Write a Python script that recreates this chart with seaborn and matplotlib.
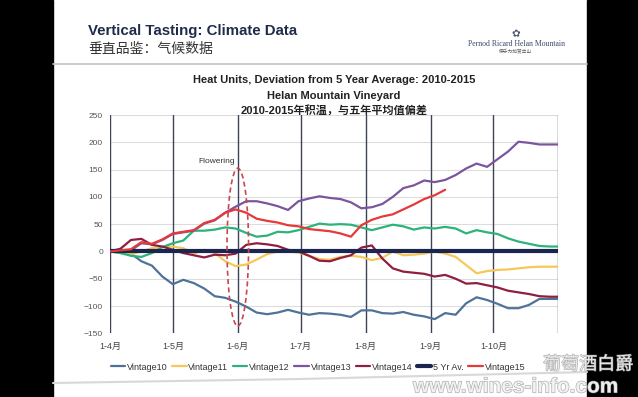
import numpy as np
import pandas as pd
import seaborn as sns
import matplotlib.pyplot as plt
import matplotlib.dates as mdates
import matplotlib.patheffects as pe
from matplotlib.patches import Ellipse, Rectangle
from matplotlib.lines import Line2D

# Days after 1 April (readings taken every 5 days)
days = [0, 5, 10, 15, 20, 25, 30, 35, 40, 45, 50, 55, 60, 65, 70, 75, 80, 85, 90, 95,
        100, 105, 110, 115, 120, 125, 130, 135, 140, 145, 150, 155, 160, 165, 170, 175,
        180, 185, 190, 195, 200, 205, 210, 214]

vintage10 = [0, -1, -4, -18, -26, -46, -60, -52, -58, -68, -82, -85, -92, -101, -112, -115,
             -112, -107, -112, -116, -113, -114, -116, -120, -108, -108, -113, -114, -111, -116,
             -119, -124, -113, -116, -95, -84, -89, -96, -104, -104, -98, -87, -87, -87]
vintage11 = [0, -3, -5, 0, 6, 8, 9, 6, -4, 3, -3, -18, -27, -24, -15, -5, 0, 0, -2, -8,
             -14, -15, -10, -8, -10, -16, -12, 0, -7, -6, -4, 0, -4, -10, -25, -40, -36, -34,
             -33, -31, -29, -28, -28, -28]
vintage12 = [0, -3, -8, -10, -3, 8, 15, 20, 38, 38, 40, 44, 42, 34, 27, 29, 36, 35, 39, 45,
             51, 49, 50, 49, 44, 39, 44, 49, 46, 40, 44, 42, 45, 42, 33, 39, 35, 32, 24, 18,
             14, 10, 9, 9]
vintage13 = [0, 0, 2, 15, 13, 21, 32, 35, 38, 51, 57, 71, 82, 92, 92, 88, 83, 76, 92, 97,
             101, 98, 96, 90, 79, 81, 87, 100, 116, 121, 130, 127, 131, 140, 152, 161, 155, 169,
             183, 201, 199, 196, 196, 196]
vintage14 = [0, 5, 21, 23, 12, 9, 3, -3, -7, -11, -6, -7, -4, 12, 15, 13, 10, 3, 0, -8,
             -17, -18, -12, -7, 7, 11, -13, -31, -37, -39, -41, -46, -43, -50, -59, -58, -62,
             -66, -72, -75, -78, -82, -83, -83]
vintage15 = [0, 2, 4, 17, 14, 22, 33, 36, 39, 52, 58, 71, 77, 71, 60, 56, 53, 48, 46, 41,
             39, 37, 33, 27, 48, 58, 64, 68, 77, 86, 96, 103, 113] + [np.nan] * 11
five_yr_av = [0] * len(days)

series_names = ["Vintage10", "Vintage11", "Vintage12", "Vintage13", "Vintage14",
                "5 Yr Av.", "Vintage15"]
series_colors = ["#4f7298", "#f6c85a", "#2bb37b", "#7b559e", "#8e1f40", "#1b2650", "#e6393a"]

month_starts = ["2015-04-01", "2015-05-01", "2015-06-01", "2015-07-01", "2015-08-01",
                "2015-09-01", "2015-10-01", "2015-11-01"]
month_labels = ["1-4月", "1-5月", "1-6月", "1-7月", "1-8月", "1-9月", "1-10月"]

start = pd.Timestamp("2015-04-01")
df = pd.DataFrame({
    "date": start + pd.to_timedelta(days, unit="D"),
    "Vintage10": vintage10,
    "Vintage11": vintage11,
    "Vintage12": vintage12,
    "Vintage13": vintage13,
    "Vintage14": vintage14,
    "5 Yr Av.": five_yr_av,
    "Vintage15": vintage15,
})
long_df = df.melt(id_vars="date", var_name="series", value_name="value").dropna()

W, H = 638, 397


def fx(px):
    return px / W


def fy(py):
    return 1 - py / H


sns.set_theme(style="white")
plt.rcParams['font.family'] = ['Liberation Sans', 'Noto Sans CJK SC', 'DejaVu Sans']

fig = plt.figure(figsize=(6.38, 3.97), dpi=100)
fig.patch.set_facecolor("white")

# black borders of the photographed screen
fig.patches.append(Rectangle((0, 0), fx(53), 1, transform=fig.transFigure, color="black", zorder=0))
fig.patches.append(Rectangle((fx(587), 0), 1 - fx(587), 1, transform=fig.transFigure,
                             color="black", zorder=0))

# slide header
fig.text(fx(88), fy(31), "Vertical Tasting: Climate Data", fontsize=10.8, weight="bold",
         color="#1f2b4a", va="center")
fig.text(fx(88), fy(48.5), "垂直品鉴：气候数据", fontsize=10, color="#333333", va="center")
fig.text(fx(516), fy(34), "✿", fontsize=7.5, color="#4a5670", ha="center", va="center",
         family="DejaVu Sans")
fig.text(fx(516), fy(44), "Pernod Ricard Helan Mountain", fontsize=5.6, color="#3a4a6a",
         ha="center", va="center", family="Liberation Serif")
fig.text(fx(516), fy(51.5), "保乐力加贺兰山", fontsize=3.4, color="#5a5a5a", ha="center", va="center")
fig.add_artist(Line2D([fx(53), fx(587)], [fy(64), fy(64)], color="#c4c4c4", lw=1.2))

# chart titles
fig.text(fx(334), fy(80), "Heat Units, Deviation from 5 Year Average: 2010-2015", fontsize=8,
         weight="bold", color="#222222", ha="center", va="center")
fig.text(fx(334), fy(96), "Helan Mountain Vineyard", fontsize=8, weight="bold",
         color="#222222", ha="center", va="center")
fig.text(fx(334), fy(110), "2010-2015年积温，与五年平均值偏差", fontsize=8, weight="bold",
         color="#222222", ha="center", va="center")

ax = fig.add_axes([fx(110), fy(333.3), (558.3 - 110) / W, (333.3 - 115) / H])

for name, color in zip(series_names, series_colors):
    lw = 3.0 if name == "5 Yr Av." else 1.6
    z = 4 if name == "Vintage15" else (3 if name == "5 Yr Av." else 2)
    sns.lineplot(data=long_df[long_df["series"] == name], x="date", y="value", color=color,
                 lw=lw, label=name, ax=ax, zorder=z, estimator=None)

for m in month_starts:
    ax.axvline(pd.Timestamp(m), color="#3d4356", lw=1, zorder=1)

ax.set_xlim(pd.Timestamp(month_starts[0]), pd.Timestamp(month_starts[-1]))
ax.set_ylim(-150, 250)
ax.set_yticks(range(-150, 251, 50))
ax.set_xticks([pd.Timestamp(m) for m in month_starts[:-1]])
ax.set_xticklabels(month_labels)
ax.set_xlabel("")
ax.set_ylabel("")
ax.yaxis.grid(True, color="#dcdcdc", lw=0.8)
ax.xaxis.grid(False)
for s in ax.spines.values():
    s.set_visible(False)
ax.tick_params(axis="y", length=0, pad=5, labelsize=6, labelcolor="#555555")
ax.tick_params(axis="x", length=0, pad=6, labelsize=6.5, labelcolor="#444444")

# flowering marker
ax.add_patch(Ellipse((mdates.date2num(pd.Timestamp("2015-06-01")), 8), width=10.3, height=289,
                     fill=False, ec="#c8474a", lw=1.2, ls=(0, (3, 2)), zorder=5))
ax.text(pd.Timestamp("2015-05-22"), 164, "Flowering", fontsize=6, ha="center", va="center",
        color="#333333")

handles, labels = ax.get_legend_handles_labels()
ax.get_legend().remove()
fig.legend(handles, labels, loc="center", bbox_to_anchor=(fx(318), fy(367)), ncol=7,
           frameon=False, fontsize=6.5, handlelength=1.6, handletextpad=0.2,
           columnspacing=0.5, labelcolor="#333333")

# bottom slide edge and watermark
fig.add_artist(Line2D([fx(53), fx(300), fx(587)], [fy(383), fy(379), fy(372)],
                      color="#d8d8d8", lw=1.5))
fig.text(fx(588), fy(365), "葡萄酒白爵", fontsize=13, color="#f2f2f2", ha="center", va="center",
         alpha=0.85, path_effects=[pe.withStroke(linewidth=0.8, foreground="#9a9a9a")])
fig.text(fx(516), fy(387), "www.wines-info.com", fontsize=15, color="#f4f4f4", ha="center",
         va="center", weight="bold", alpha=0.85,
         path_effects=[pe.withStroke(linewidth=0.8, foreground="#9a9a9a")])

fig.savefig("out.png", dpi=100)
